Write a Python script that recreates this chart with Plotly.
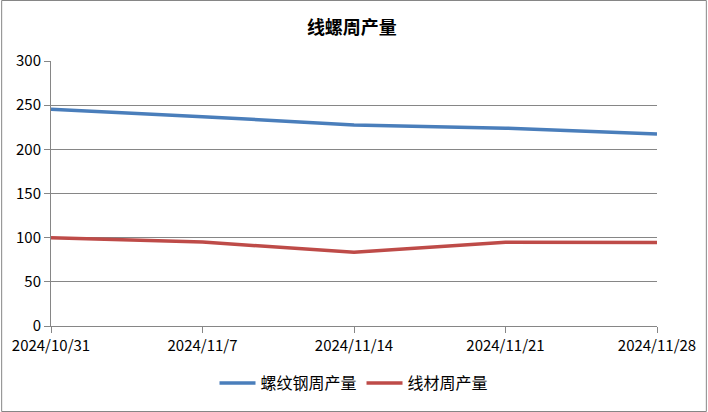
import plotly.graph_objects as go

dates = ["2024/10/31", "2024/11/7", "2024/11/14", "2024/11/21", "2024/11/28"]
rebar = [245.3, 237.0, 227.5, 224.0, 217.5]
wire = [100.0, 95.0, 83.5, 94.7, 94.5]
names = ["螺纹钢周产量", "线材周产量"]
yticks = [0, 50, 100, 150, 200, 250, 300]

W, H = 708, 412
L, R, T, B = 50, 50, 61, 86
pw, ph = W - L - R, H - T - B

fig = go.Figure()
fig.add_trace(go.Scatter(x=dates, y=rebar, name=names[0], mode="lines",
                         line=dict(color="#4a7ebb", width=3.5)))
fig.add_trace(go.Scatter(x=dates, y=wire, name=names[1], mode="lines",
                         line=dict(color="#be4b48", width=3.5)))

font_main = "Noto Sans CJK SC, Liberation Sans, sans-serif"
fig.update_layout(
    width=W, height=H,
    margin=dict(l=L, r=R, t=T, b=B),
    paper_bgcolor="white", plot_bgcolor="white",
    title=dict(text="<b>线螺周产量</b>", x=0.497, xanchor="center", y=1 - 28 / H, yanchor="middle",
               font=dict(family=font_main, size=18, color="black")),
    font=dict(family=font_main, size=15, color="black"),
    showlegend=True,
    legend=dict(orientation="h", x=0.5, xanchor="center", y=-(383 - 326) / ph, yanchor="middle",
                font=dict(size=16), itemwidth=36, tracegroupgap=0),
    xaxis=dict(type="category", range=[0, 4], showgrid=False, showline=True, linecolor="#868686",
               ticks="outside", ticklen=6, tickcolor="#868686", tickfont=dict(size=15)),
    yaxis=dict(range=[0, 300], tickvals=yticks, showgrid=True, gridcolor="#868686", gridwidth=1,
               showline=True, linecolor="#868686", ticks="outside", ticklen=6, tickcolor="#868686",
               tickfont=dict(size=15), zeroline=False),
)
fig.add_shape(type="rect", xref="paper", yref="paper",
              x0=(0.5 - L) / pw, x1=(W - 0.5 - L) / pw,
              y0=-(H - 0.5 - T - ph) / ph, y1=1 + (T - 0.5) / ph,
              line=dict(color="#868686", width=1), layer="below")
fig.write_html("out.html", config={"displayModeBar": False},
               post_script="document.body.style.margin='0';")
